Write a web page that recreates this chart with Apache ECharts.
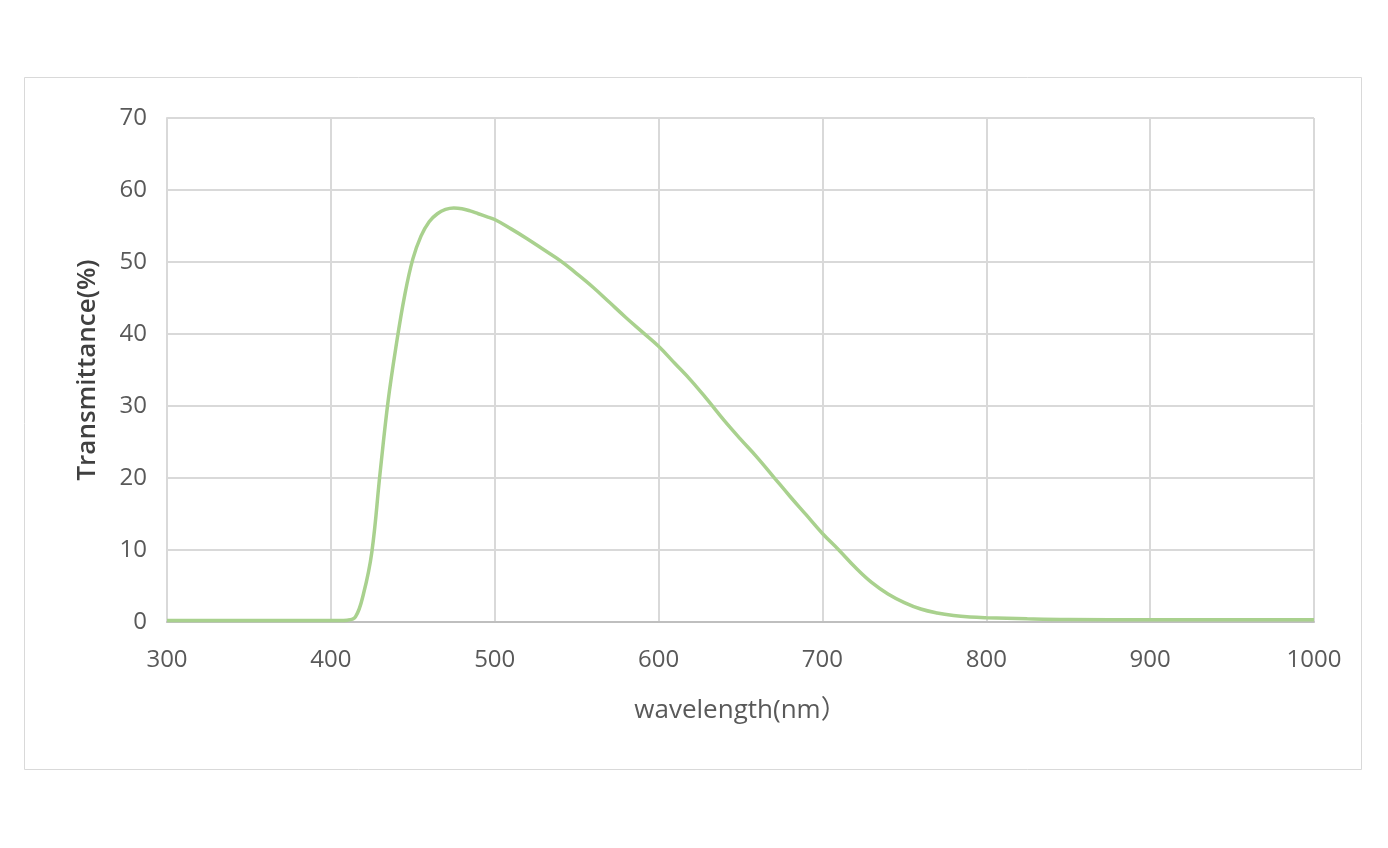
<!DOCTYPE html>
<html>
<head>
<meta charset="utf-8">
<script src="https://cdn.jsdelivr.net/npm/echarts@6/dist/echarts.min.js"></script>
<style>
html,body{margin:0;padding:0;background:#fff;}
#chart{width:1388px;height:848px;}
</style>
</head>
<body>
<div id="chart"></div>
<script>
const wavelength = [300, 350, 400, 405, 410, 415, 420, 425, 430, 435, 440, 445, 450, 455, 460, 465, 470, 475, 480, 485, 490, 495, 500, 510, 520, 530, 540, 550, 560, 570, 580, 590, 600, 610, 620, 630, 640, 650, 660, 670, 680, 690, 700, 710, 720, 730, 740, 750, 760, 770, 780, 790, 800, 825, 850, 900, 950, 1000];
const transmittance = [0.2, 0.2, 0.2, 0.2, 0.25, 0.7, 4.0, 9.7, 20.6, 30.8, 38.6, 45.3, 50.4, 53.6, 55.6, 56.7, 57.3, 57.5, 57.4, 57.1, 56.7, 56.3, 55.9, 54.6, 53.2, 51.7, 50.2, 48.4, 46.5, 44.4, 42.3, 40.3, 38.3, 35.9, 33.5, 30.8, 28.0, 25.4, 22.9, 20.2, 17.5, 14.9, 12.3, 10.0, 7.6, 5.5, 3.9, 2.7, 1.8, 1.25, 0.9, 0.7, 0.6, 0.45, 0.35, 0.3, 0.3, 0.3];
const xTicks = {min: 300, max: 1000, step: 100};
const yTicks = {min: 0, max: 70, step: 10};
const xName = 'wavelength(nm）';
const yName = 'Transmittance(%)';

const points = wavelength.map((w, i) => [w, transmittance[i]]);
const font = '"Open Sans", "Noto Sans", "Noto Sans CJK SC", sans-serif';
const chart = echarts.init(document.getElementById('chart'), null, {renderer: 'canvas'});
chart.setOption({
  animation: false,
  backgroundColor: '#ffffff',
  graphic: [{
    type: 'rect',
    shape: {x: 24.5, y: 77.5, width: 1337, height: 692},
    style: {fill: 'none', stroke: '#d9d9d9', lineWidth: 1},
    z: -1
  }],
  grid: {left: 167, right: 74, top: 118, bottom: 226, containLabel: false},
  xAxis: {
    type: 'value',
    min: xTicks.min, max: xTicks.max, interval: xTicks.step,
    name: xName,
    nameLocation: 'middle',
    nameGap: 76,
    nameTextStyle: {fontFamily: font, fontSize: 26, color: '#595959'},
    axisLine: {show: true, lineStyle: {color: '#bfbfbf', width: 2}},
    axisTick: {show: false},
    axisLabel: {fontFamily: font, fontSize: 24, color: '#595959', margin: 26, formatter: v => String(v)},
    splitLine: {show: true, lineStyle: {color: '#d9d9d9', width: 2}}
  },
  yAxis: {
    type: 'value',
    min: yTicks.min, max: yTicks.max, interval: yTicks.step,
    name: yName,
    nameLocation: 'middle',
    nameGap: 66,
    nameRotate: 90,
    nameTextStyle: {fontFamily: font, fontSize: 26, color: '#404040', fontWeight: 600},
    axisLine: {show: true, lineStyle: {color: '#d9d9d9', width: 2}},
    axisTick: {show: false},
    axisLabel: {fontFamily: font, fontSize: 24, color: '#595959', margin: 20},
    splitLine: {show: true, lineStyle: {color: '#d9d9d9', width: 2}}
  },
  series: [{
    type: 'line',
    data: points,
    showSymbol: false,
    smooth: 0.4,
    lineStyle: {color: '#a9d18e', width: 3.5},
    z: 3
  }]
});
</script>
</body>
</html>
